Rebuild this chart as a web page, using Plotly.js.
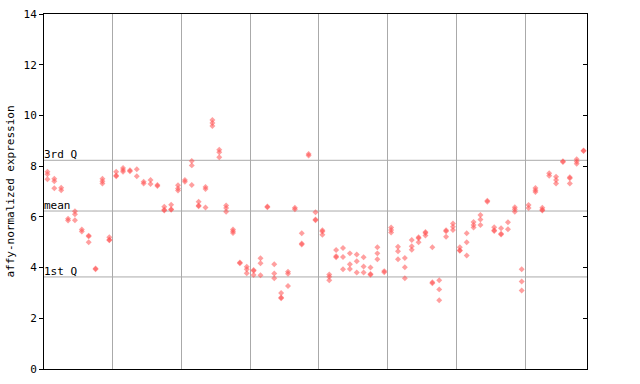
<!DOCTYPE html>
<html>
<head>
<meta charset="utf-8">
<script src="https://cdn.plot.ly/plotly-3.0.1.min.js"></script>
<style>html,body{margin:0;padding:0;background:#fff}#chart{width:640px;height:384px}</style>
</head>
<body>
<div id="chart"></div>
<script>
// sample slots (one column per sample, replicates stacked)
const sampleCount = 79;
// replicate values (null = no replicate)
const rep1 = [7.78,7.5,7.15,5.93,6.22,5.5,5.26,3.96,7.5,5.2,7.78,7.93,7.84,7.88,7.38,7.45,7.26,6.4,6.48,7.25,
  7.45,8.2,6.6,7.18,9.82,8.65,6.45,5.5,4.2,4.03,3.9,4.37,6.41,4.13,3.0,3.84,6.36,5.35,8.48,6.18,
  5.47,3.73,4.69,4.77,4.56,4.52,4.41,4.0,4.8,3.86,5.58,4.82,4.38,5.09,5.2,5.4,4.8,3.5,5.47,5.74,
  4.8,5.35,5.8,6.07,6.64,5.59,5.55,5.79,6.38,3.93,6.47,7.14,6.36,7.72,7.58,8.19,7.56,8.27,8.62];
const rep2 = [7.68,7.4,7.05,5.86,6.1,5.42,5.23,3.93,7.4,5.1,7.63,7.85,7.8,7.6,7.32,7.3,7.22,6.28,6.3,7.12,
  7.38,8.03,6.45,7.1,9.7,8.55,6.35,5.43,4.17,3.93,3.87,4.17,6.38,3.77,2.82,3.76,6.3,4.95,8.42,5.9,
  5.42,3.64,4.45,4.42,4.13,4.25,4.04,3.75,4.56,3.82,5.48,4.64,4.01,4.84,5.16,5.36,3.42,3.14,5.43,5.61,
  4.68,5.0,5.68,5.9,6.6,5.47,5.33,5.51,6.3,3.45,6.35,7.05,6.28,7.62,7.45,8.16,7.52,8.18,8.6];
const rep3 = [7.48,7.13,null,null,5.87,null,5.0,null,7.32,5.08,7.6,7.78,null,null,null,null,null,6.25,6.28,7.04,
  null,7.26,6.42,6.37,9.58,8.35,6.2,5.36,null,3.78,3.71,3.7,null,3.58,2.79,3.27,null,4.91,null,5.87,
  5.29,3.5,4.41,3.93,3.94,3.81,3.81,3.72,4.33,null,5.38,4.33,3.58,4.7,5.0,5.26,3.38,2.71,5.22,5.48,
  4.66,4.48,5.58,5.68,null,5.44,5.3,null,6.2,3.1,null,6.98,6.25,null,7.32,null,7.32,8.09,null];
// reference lines
const refValues = [8.23, 6.23, 3.63];
const refLabels = ['3rd Q', 'mean', '1st Q'];
const yTicks = [0, 2, 4, 6, 8, 10, 12, 14];

const positions = Array.from({length: sampleCount}, (_, i) => i + 0.5);
const mono = 'DejaVu Sans Mono, monospace';
const red = 'rgb(255,80,80)';

const traces = [rep1, rep2, rep3].map(r => ({
  type: 'scatter', mode: 'markers', x: positions, y: r,
  marker: {symbol: 'diamond', size: 4.6, color: red, opacity: 0.55, line: {width: 0}},
  hoverinfo: 'y', showlegend: false, cliponaxis: false
}));
traces.push({type: 'scatter', mode: 'markers', x: [null], y: [null], yaxis: 'y2',
  showlegend: false, hoverinfo: 'skip'});

const layout = {
  width: 640, height: 384,
  margin: {l: 44, r: 53, t: 14, b: 15, pad: 0},
  paper_bgcolor: '#ffffff', plot_bgcolor: '#ffffff',
  showlegend: false,
  xaxis: {range: [0, sampleCount], tick0: 0, dtick: 10, showticklabels: false, ticks: '',
    showgrid: true, gridcolor: '#aaaaaa', gridwidth: 1, zeroline: false,
    showline: true, linecolor: '#000000', linewidth: 1, mirror: true, fixedrange: true},
  yaxis: {range: [0, 14], tickvals: yTicks, ticks: 'outside', ticklen: 4, tickcolor: '#000000',
    showgrid: false, zeroline: false, showline: true, linecolor: '#000000', linewidth: 1,
    tickfont: {family: mono, size: 11, color: '#000000'},
    title: {text: 'affy-normalized expression', font: {family: mono, size: 11, color: '#000000'}, standoff: 6},
    fixedrange: true},
  yaxis2: {range: [0, 14], tickvals: yTicks, overlaying: 'y', side: 'right', anchor: 'x',
    ticks: 'inside', ticklen: 4, tickcolor: '#000000', showticklabels: false,
    showgrid: false, zeroline: false, showline: true, linecolor: '#000000', linewidth: 1, fixedrange: true},
  shapes: refValues.map(v => ({type: 'line', xref: 'paper', x0: 0, x1: 1, yref: 'y', y0: v, y1: v,
    line: {color: '#aaaaaa', width: 1}, layer: 'below'})),
  annotations: refValues.map((v, i) => ({xref: 'paper', x: 0, yref: 'y', y: v, text: refLabels[i],
    showarrow: false, xanchor: 'left', yanchor: 'bottom', borderpad: 0, xshift: -1, yshift: -2,
    font: {family: mono, size: 11, color: '#000000'}}))
};

Plotly.newPlot('chart', traces, layout, {displayModeBar: false, staticPlot: true});
</script>
</body>
</html>
